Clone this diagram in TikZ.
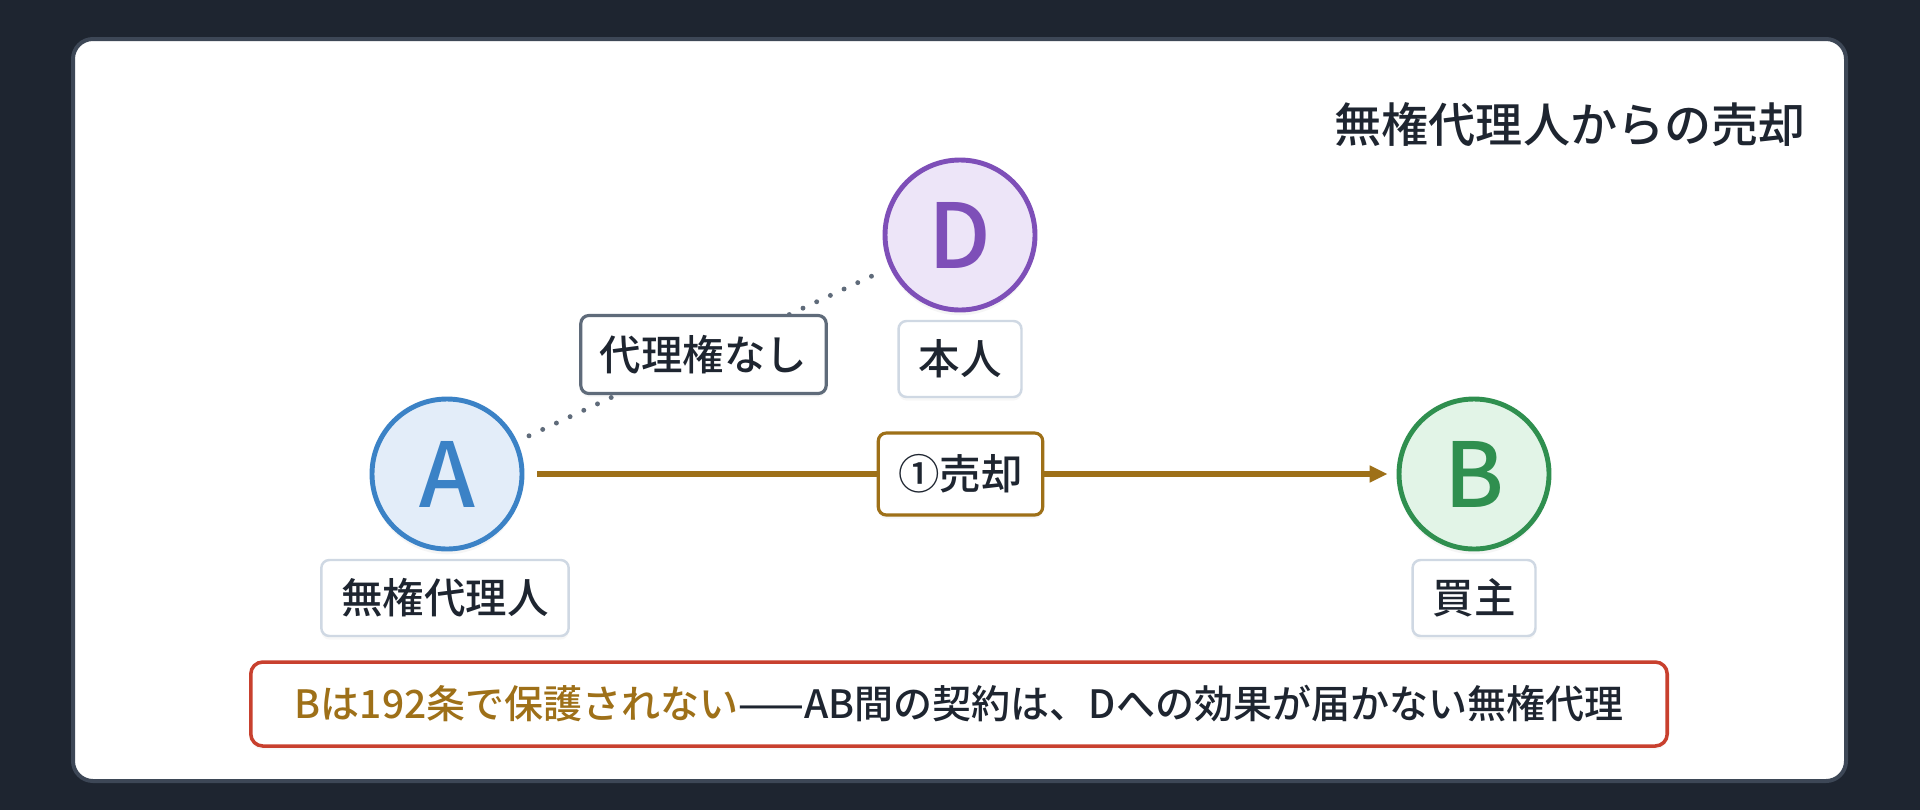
\documentclass[tikz,border=0pt]{standalone}
\usepackage{fontspec}
\setmainfont{Noto Sans CJK JP}[UprightFont=* Medium, BoldFont=* Bold]
\usetikzlibrary{arrows.meta,shadows}
\definecolor{page}{HTML}{1E2530}
\definecolor{cardline}{HTML}{3D4756}
\definecolor{ink}{HTML}{1E2530}
\definecolor{tagline}{HTML}{CFD8E3}
\definecolor{noline}{HTML}{5F6B7A}
\definecolor{sale}{HTML}{9E7018}
\definecolor{warn}{HTML}{C8402E}
\definecolor{afill}{HTML}{E3EDF9}
\definecolor{aline}{HTML}{3B82C6}
\definecolor{bfill}{HTML}{E2F4E7}
\definecolor{bline}{HTML}{2F8F4F}
\definecolor{dfill}{HTML}{EDE5F8}
\definecolor{dline}{HTML}{7E4FB8}
\tikzset{
	party/.style={circle, minimum size=1.5cm, inner sep=0pt, line width=1.4pt, font=\fontsize{25.5}{27}\selectfont, drop shadow={opacity=0.08, shadow xshift=0pt, shadow yshift=-1.5pt}},
	tag/.style={draw=tagline, fill=white, solid, rounded corners=0.08cm, line width=0.7pt, minimum height=0.76cm, inner xsep=0.2cm, text=ink, font=\fontsize{11.8}{13}\selectfont, drop shadow={opacity=0.06, shadow xshift=0pt, shadow yshift=-1pt}},
	noauth/.style={draw=noline, line width=1.4pt, dash pattern=on 0pt off 4.3pt, line cap=round, shorten <=0.13cm, shorten >=0.13cm},
	sell/.style={draw=sale, line width=1.8pt, -{Triangle[length=0.18cm, width=0.16cm]}, shorten <=0.13cm, shorten >=0.09cm}
}
\begin{document}
\begin{tikzpicture}
			\fill[page] (0, 0) rectangle (19.2, 8.1);
			\draw[cardline, fill=white, line width=0.04cm, rounded corners=0.2cm] (0.73, 0.29) rectangle (18.46, 7.71);
			
			\node[anchor=east, text=ink, font=\fontsize{13.4}{15}\selectfont] (title) at (18.18, 6.85) {無権代理人からの売却};
			
			\node[party, draw=dline, fill=dfill, text=dline] (D) at (9.60, 5.75) {D};
			\node[tag] (Dname) at (9.60, 4.51) {本人};
			
			\node[party, draw=aline, fill=afill, text=aline] (A) at (4.47, 3.36) {A};
			\node[tag] (Aname) at (4.45, 2.12) {無権代理人};
			
			\node[party, draw=bline, fill=bfill, text=bline] (B) at (14.74, 3.36) {B};
			\node[tag] (Bname) at (14.74, 2.12) {買主};
			
			\draw[noauth] (A) -- node[tag, draw=noline, line width=0.9pt, inner xsep=0.19cm, minimum height=0.78cm] (noagency) {代理権なし} (D);
			
			\draw[sell] (A) -- node[tag, draw=sale, line width=0.9pt, minimum height=0.82cm] (sale) {①売却} (B);
			
			\node[tag, draw=warn, line width=1pt, rounded corners=0.12cm, minimum height=0.84cm, inner xsep=0.44cm, font=\fontsize{11.1}{13}\selectfont] (note) at (9.59, 1.06) {{\color{sale}Bは192条で保護されない}——AB間の契約は、Dへの効果が届かない無権代理};
\end{tikzpicture}
\end{document}
